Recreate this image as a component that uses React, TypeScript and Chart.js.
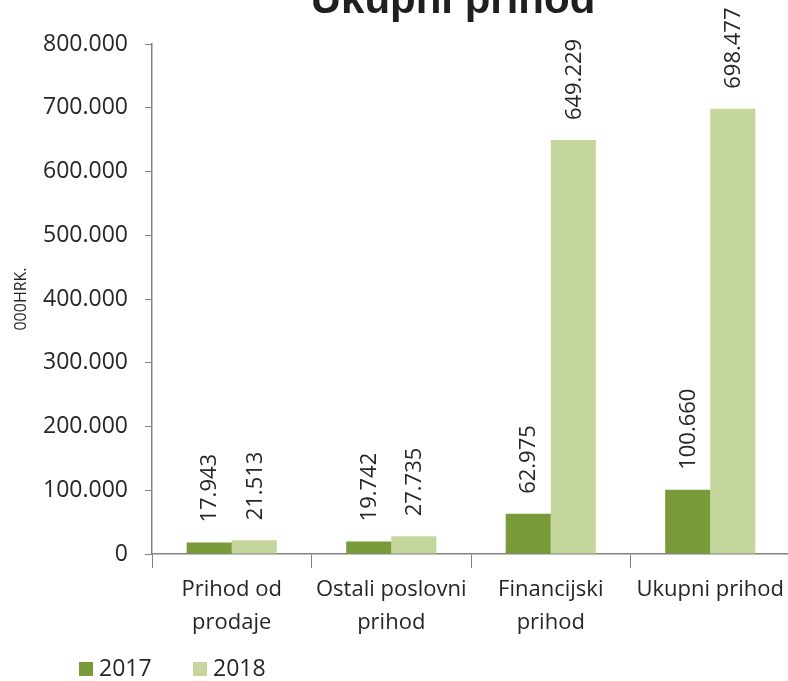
import React, { useEffect, useRef } from "react";
import { Chart, registerables } from "chart.js";

Chart.register(...registerables);

const chartTitle = "Ukupni prihod";
const yAxisTitle = "000HRK.";
const categories: (string | string[])[] = [
  ["Prihod od", "prodaje"],
  ["Ostali poslovni", "prihod"],
  ["Financijski", "prihod"],
  "Ukupni prihod",
];
const seriesNames = ["2017", "2018"];
const values2017 = [17943, 19742, 62975, 100660];
const values2018 = [21513, 27735, 649229, 698477];
const yMin = 0;
const yMax = 800000;
const yStep = 100000;

const colors = ["#789a3a", "#c4d69b"];
const textColor = "#262626";
const axisColor = "#828282";
const FONT = "'Open Sans', 'DejaVu Sans', sans-serif";

const fmt = (n: number) =>
  String(Math.round(n)).replace(/\B(?=(\d{3})+(?!\d))/g, ".");

const titlePlugin = {
  id: "customTitle",
  afterDraw(chart: any) {
    const ctx = chart.ctx;
    ctx.save();
    ctx.font = `bold 42px 'Liberation Sans', Arial, sans-serif`;
    ctx.fillStyle = "#1f1f1f";
    ctx.textAlign = "center";
    ctx.textBaseline = "alphabetic";
    ctx.fillText(chartTitle, 453, 13);
    ctx.restore();
  },
};

const dataLabelPlugin = {
  id: "rotatedLabels",
  afterDatasetsDraw(chart: any) {
    const ctx = chart.ctx;
    ctx.save();
    ctx.font = `22px ${FONT}`;
    ctx.fillStyle = textColor;
    chart.data.datasets.forEach((ds: any, di: number) => {
      const meta = chart.getDatasetMeta(di);
      meta.data.forEach((el: any, i: number) => {
        ctx.save();
        ctx.translate(el.x + 1, el.y - 20);
        ctx.rotate(-Math.PI / 2);
        ctx.textAlign = "left";
        ctx.textBaseline = "middle";
        ctx.fillText(fmt(ds.data[i]), 0, 0);
        ctx.restore();
      });
    });
    ctx.restore();
  },
};

const legendPlugin = {
  id: "customLegend",
  afterDraw(chart: any) {
    const ctx = chart.ctx;
    const xs = [79, 193];
    ctx.save();
    ctx.font = `23px ${FONT}`;
    ctx.textBaseline = "middle";
    ctx.textAlign = "left";
    seriesNames.forEach((name, i) => {
      ctx.fillStyle = colors[i];
      ctx.fillRect(xs[i], 662, 14, 14);
      ctx.fillStyle = textColor;
      ctx.fillText(name, xs[i] + 20, 669);
    });
    ctx.restore();
  },
};

export default function App() {
  const ref = useRef<HTMLCanvasElement | null>(null);

  useEffect(() => {
    if (!ref.current) return;
    const chart = new Chart(ref.current, {
      type: "bar",
      data: {
        labels: categories,
        datasets: [
          {
            label: seriesNames[0],
            data: values2017,
            backgroundColor: colors[0],
            borderWidth: 0,
            barPercentage: 1,
            categoryPercentage: 0.565,
          },
          {
            label: seriesNames[1],
            data: values2018,
            backgroundColor: colors[1],
            borderWidth: 0,
            barPercentage: 1,
            categoryPercentage: 0.565,
          },
        ],
      },
      options: {
        responsive: false,
        animation: false,
        devicePixelRatio: 1,
        layout: { padding: { top: 44, right: 10, bottom: 0, left: 0 } },
        plugins: {
          legend: { display: false },
          title: { display: false },
          tooltip: { enabled: false },
        },
        scales: {
          x: {
            grid: {
              display: true,
              drawOnChartArea: false,
              drawTicks: true,
              tickLength: 14,
              color: axisColor,
              offset: true,
            },
            border: { display: true, color: axisColor, width: 1.5 },
            ticks: {
              font: { family: FONT, size: 22, lineHeight: 1.5 },
              color: textColor,
              padding: 5,
              maxRotation: 0,
              minRotation: 0,
              autoSkip: false,
            },
            afterFit: (s: any) => {
              s.height = 127;
            },
          },
          y: {
            min: yMin,
            max: yMax,
            grid: {
              display: true,
              drawOnChartArea: false,
              drawTicks: true,
              tickLength: 7,
              color: axisColor,
            },
            border: { display: true, color: axisColor, width: 1.5 },
            ticks: {
              stepSize: yStep,
              font: { family: FONT, size: 23 },
              color: textColor,
              padding: 17,
              callback: (v: any) => fmt(Number(v)),
            },
            title: {
              display: true,
              text: yAxisTitle,
              font: { family: FONT, size: 16 },
              color: textColor,
              padding: { top: 12, bottom: 0 },
            },
            afterFit: (s: any) => {
              s.width = 152;
            },
          },
        },
      },
      plugins: [titlePlugin, dataLabelPlugin, legendPlugin],
    });
    return () => chart.destroy();
  }, []);

  return (
    <div
      style={{
        position: "fixed",
        left: 0,
        top: 0,
        width: 788,
        height: 681,
        overflow: "hidden",
        background: "#fff",
      }}
    >
      <canvas
        ref={ref}
        width={800}
        height={681}
        style={{ display: "block", width: 800, height: 681 }}
      />
    </div>
  );
}
